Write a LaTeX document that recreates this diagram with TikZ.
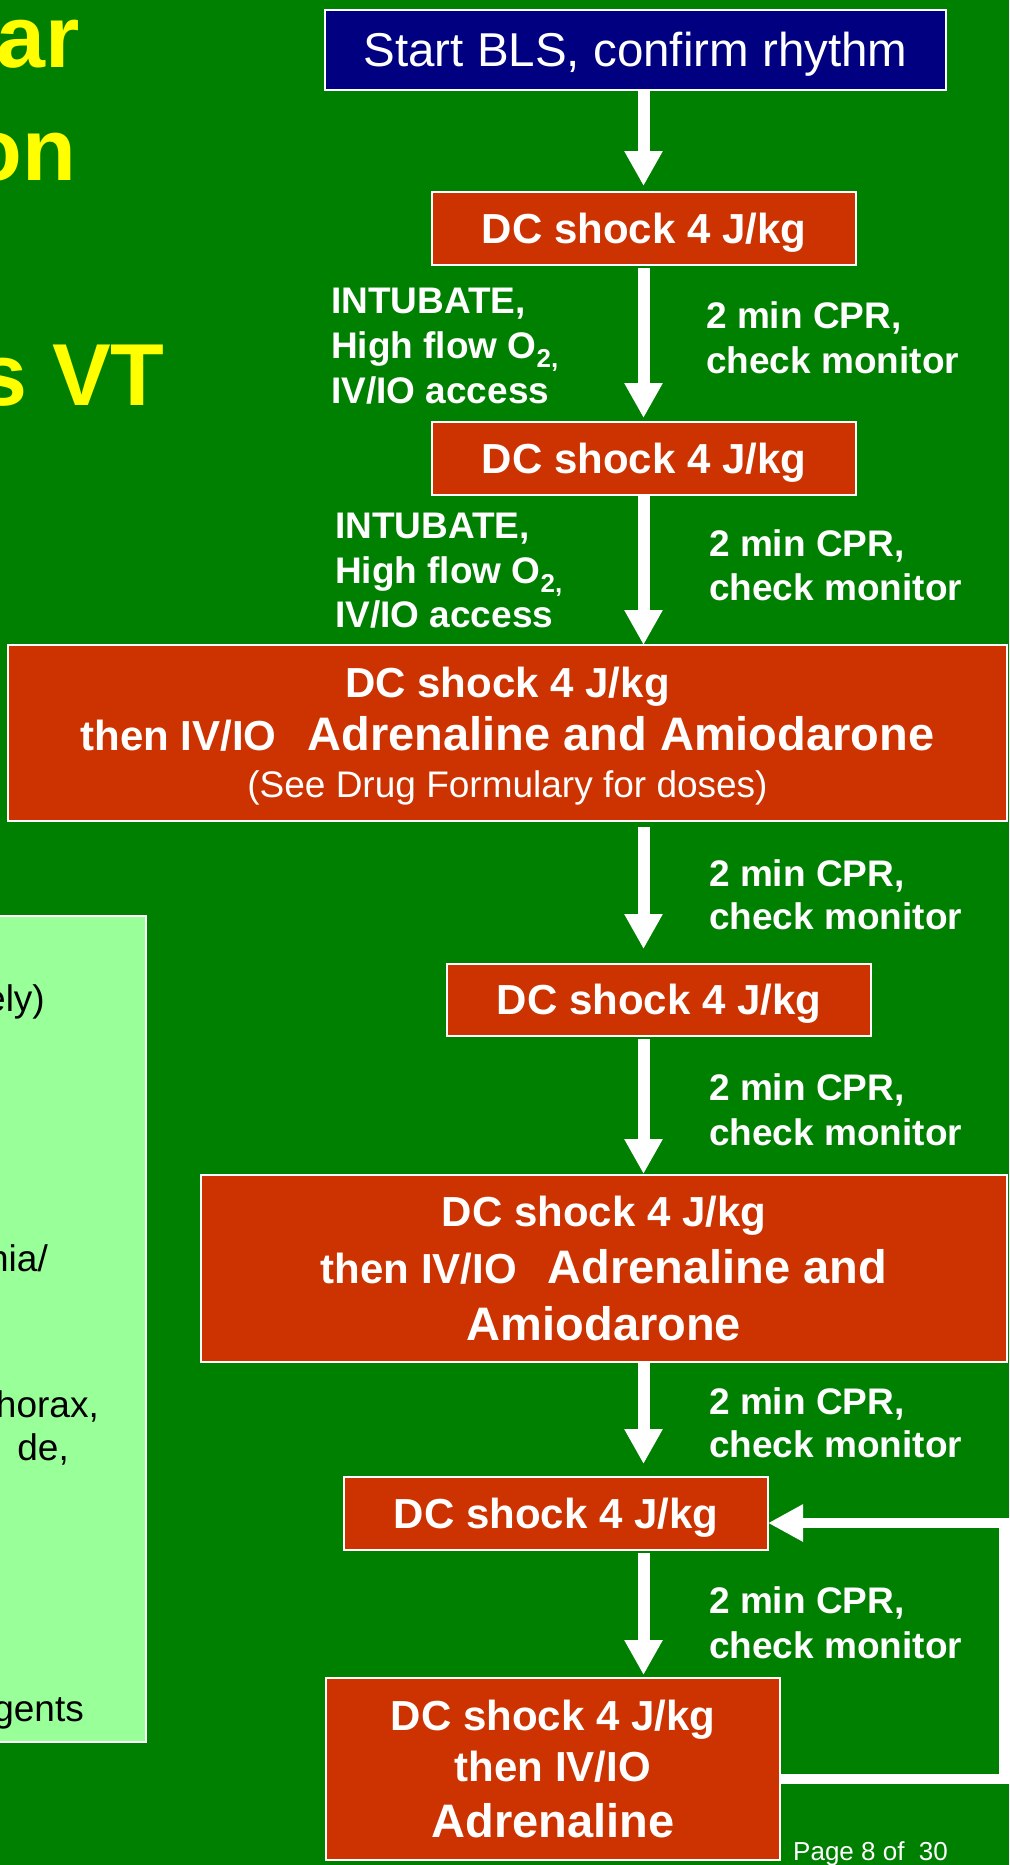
\documentclass[tikz,border=0pt]{standalone}
\usepackage{fontspec}
\setmainfont{Liberation Sans}
\usetikzlibrary{arrows.meta,fit}

\definecolor{bg}{RGB}{0,128,0}
\definecolor{boxred}{RGB}{204,51,0}
\definecolor{navy}{RGB}{0,0,128}
\definecolor{pale}{RGB}{153,255,153}
\definecolor{ttl}{RGB}{255,255,0}

\newcommand\setpx[1]{\fontsize{#1}{#1}\selectfont}

\begin{document}
\begin{tikzpicture}[x=1pt,y=-1pt,
  box/.style={draw=white, line width=1.5pt, inner sep=0pt, outer sep=0pt},
  shockbox/.style={box, fill=boxred},
  txt/.style={text=white, inner sep=0pt, anchor=base},
  dc/.style={txt, font=\bfseries\setpx{42}},
  big/.style={txt, font=\bfseries\setpx{47}},
  lbl/.style={text=white, inner sep=0pt, anchor=base west, font=\bfseries\setpx{37}},
  note/.style={text=black, inner sep=0pt, anchor=base east, font=\setpx{37}},
  title/.style={text=ttl, inner sep=0pt, anchor=base east, font=\bfseries\setpx{88}},
  flow/.style={draw=white, line width=12pt, -{Triangle[width=36pt,length=35pt]}},
  loopback/.style={draw=white, line width=10pt, -{Triangle[width=35pt,length=35pt]}}
]
% canvas
\fill[bg] (0,0) rectangle (1009,1865);
\useasboundingbox (0,0) rectangle (1009,1865);

% heading fragments
\node[title] (t1) at (80,68) {ar};
\node[title] (t2) at (76,180) {on};
\node[title] (t3) at (165,405) {s VT};

% notes panel
\node[box, fill=pale, fit={(-10,916) (146,1742)}] (notes) {};
\node[note] (n1) at (45,1011) {ely)};
\node[note] (n2) at (48,1271) {nia/};
\node[note] (n3) at (99,1417) {horax,};
\node[note] (n4) at (69,1460) {de,};
\node[note] (n5) at (84,1721) {gents};

% flow column axis
\coordinate (axis) at (643.5,0);

% boxes
\node[box, fill=navy, fit={(325,10) (946,90)}] (start) {};
\node[txt, font=\setpx{47.5}] (starttxt) at (635.5,67) {Start BLS, confirm rhythm};

\node[shockbox, fit={(432,192) (856,265)}] (dc1) {};
\node[dc] (dc1txt) at (644,243) {DC shock 4 J/kg};

\node[shockbox, fit={(432,422) (856,495)}] (dc2) {};
\node[dc] (dc2txt) at (644,473) {DC shock 4 J/kg};

\node[shockbox, fit={(8,645) (1007,821)}] (bb1) {};
\node[dc] (bb1a) at (507.5,697) {DC shock 4 J/kg};
\node[txt] (bb1b) at (507.5,750) {{\bfseries\setpx{42}then IV/IO}\hspace{31pt}{\bfseries\setpx{47}Adrenaline and Amiodarone}};
\node[txt, font=\setpx{37}] (bb1c) at (507.5,797) {(See Drug Formulary for doses)};

\node[shockbox, fit={(447,964) (871,1036)}] (dc3) {};
\node[dc] (dc3txt) at (659,1014) {DC shock 4 J/kg};

\node[shockbox, fit={(201,1175) (1007,1362)}] (bb2) {};
\node[dc] (bb2a) at (604,1226) {DC shock 4 J/kg};
\node[txt] (bb2b) at (604,1283) {{\bfseries\setpx{42}then IV/IO}\hspace{31pt}{\bfseries\setpx{47}Adrenaline and}};
\node[big] (bb2c) at (604,1340) {Amiodarone};

\node[shockbox, fit={(344,1477) (768,1550)}] (dc4) {};
\node[dc] (dc4txt) at (556,1528) {DC shock 4 J/kg};

\node[shockbox, fit={(326,1678) (780,1860)}] (fin) {};
\node[dc] (fina) at (553,1730) {DC shock 4 J/kg};
\node[dc] (finb) at (553,1781) {then IV/IO};
\node[big] (finc) at (553,1837) {Adrenaline};

% side labels
\node[lbl] (i1a) at (331,313) {INTUBATE,};
\node[lbl] (i1b) at (331,358) {High flow O\textsubscript{2,}};
\node[lbl] (i1c) at (331,403) {IV/IO access};
\node[lbl] (i2a) at (335,538) {INTUBATE,};
\node[lbl] (i2b) at (335,583) {High flow O\textsubscript{2,}};
\node[lbl] (i2c) at (335,627) {IV/IO access};

\node[lbl] (c1a) at (706,328) {2 min CPR,};
\node[lbl] (c1b) at (706,373) {check monitor};
\node[lbl] (c2a) at (709,556) {2 min CPR,};
\node[lbl] (c2b) at (709,600) {check monitor};
\node[lbl] (c3a) at (709,886) {2 min CPR,};
\node[lbl] (c3b) at (709,929) {check monitor};
\node[lbl] (c4a) at (709,1100) {2 min CPR,};
\node[lbl] (c4b) at (709,1145) {check monitor};
\node[lbl] (c5a) at (709,1414) {2 min CPR,};
\node[lbl] (c5b) at (709,1457) {check monitor};
\node[lbl] (c6a) at (709,1613) {2 min CPR,};
\node[lbl] (c6b) at (709,1658) {check monitor};

% connectors
\draw[flow, shorten >=6pt] (start.south -| axis) -- (dc1.north -| axis);
\draw[flow, shorten <=3pt, shorten >=4pt] (dc1.south -| axis) -- (dc2.north -| axis);
\draw[flow] (dc2.south -| axis) -- (bb1.north -| axis);
\draw[flow, shorten <=6pt, shorten >=15pt] (bb1.south -| axis) -- (dc3.north -| axis);
\draw[flow, shorten <=3pt, shorten >=1pt] (dc3.south -| axis) -- (bb2.north -| axis);
\draw[flow, shorten >=13pt] (bb2.south -| axis) -- (dc4.north -| axis);
\draw[flow, shorten <=3pt, shorten >=3pt] (dc4.south -| axis) -- (fin.north -| axis);

% repeat loop
\coordinate (lpb) at (1004,1779);
\coordinate (lpt) at (1004,1523);
\draw[loopback] (fin.east |- lpb) -- (lpb) -- (lpt) -- (dc4.east |- lpt);

% footer
\node[text=white, inner sep=0pt, anchor=base west, font=\setpx{26}] (page) at (793,1860) {Page 8 of\ \ 30};
\end{tikzpicture}
\end{document}
